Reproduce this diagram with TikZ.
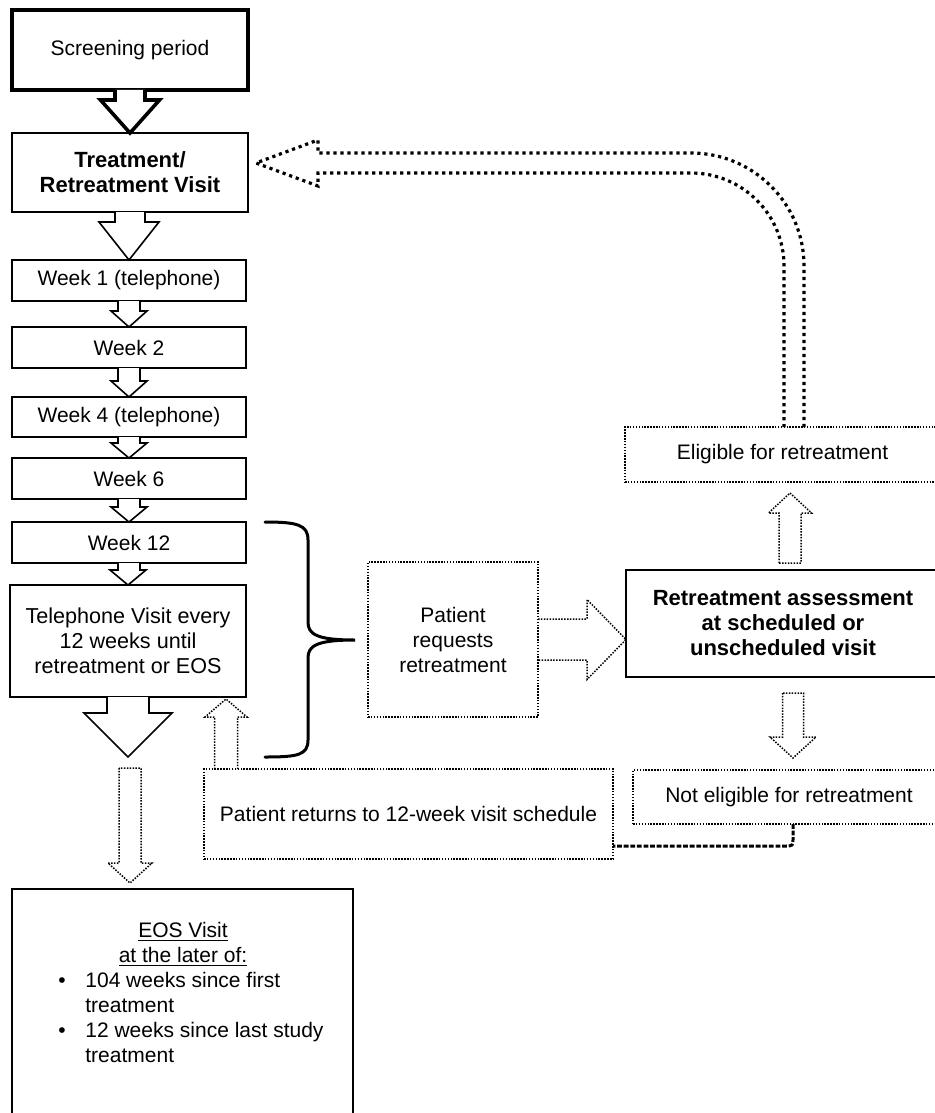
\documentclass[tikz,border=0pt]{standalone}
\usepackage{fontspec}
\setmainfont{Liberation Sans}
\usetikzlibrary{calc}
% vertical block arrow: style, tail, tip, shaft half-width, head half-width, head base offset (px)
\newcommand\vblk[6]{%
  \draw[#1] ($(#2)+(-#4,0)$) |- ($(#3)+(-#5,#6)$) -- (#3) -- ($(#3)+(#5,#6)$) -| ($(#2)+(#4,0)$);}
\newcommand\vblkc[6]{%
  \draw[#1] ($(#2)+(-#4,0)$) |- ($(#3)+(-#5,#6)$) -- (#3) -- ($(#3)+(#5,#6)$) -| ($(#2)+(#4,0)$) -- cycle;}
\tikzset{
  txt/.style={font=\fontsize{10.5}{12.5}\selectfont},
  boldtxt/.style={font=\fontsize{11}{12.5}\selectfont\bfseries},
  box/.style={draw, line width=0.8pt, inner sep=0pt, outer sep=0pt, align=center, txt},
  dbox/.style={box, line width=0.75pt, dash pattern=on 0.75pt off 0.7pt},
  wbox/.style={box, minimum width=117pt, minimum height=20.5pt},
  solidarrow/.style={draw, line width=0.8pt, fill=white, line join=miter},
  dotarrow/.style={draw, line width=0.75pt, dash pattern=on 0.75pt off 0.7pt},
  bigdots/.style={draw, line width=1.6pt, dash pattern=on 1.6pt off 1.9pt},
  thickdash/.style={draw, line width=1.5pt, dash pattern=on 2.4pt off 0.9pt},
  bracestyle/.style={draw, line width=1.5pt, line cap=round},
}
\begin{document}
\begin{tikzpicture}[x=0.5pt,y=-0.5pt]
\fill[white] (0,0) rectangle (935,1113);
\useasboundingbox (0,0) rectangle (935,1113);
\clip (0,0) rectangle (935,1113);

% ---- left column ----
\node[box, line width=2pt, minimum width=118pt, minimum height=40pt] (scr) at (130,50) {Screening period};
\node[box, boldtxt, minimum width=118pt, minimum height=39.5pt] (trt) at (130,172.5) {Treatment/\\Retreatment Visit};
\node[wbox] (w1) at (129,280.5) {Week 1 (telephone)};
\node[wbox] (w2) at (129,347.5) {Week 2};
\node[wbox, minimum height=20pt] (w4) at (129,417) {Week 4 (telephone)};
\node[wbox] (w6) at (129,478.5) {Week 6};
\node[wbox] (w12) at (129,542.5) {Week 12};
\node[box, font=\fontsize{10.8}{12.5}\selectfont, minimum width=118pt, minimum height=56pt] (tel) at (128,641) {Telephone Visit every\\12 weeks until\\retreatment or EOS};
\node[box, line width=0.9pt, minimum width=170.5pt, minimum height=118pt] (eos) at (182.5,1007) {};
\node[txt, anchor=base, inner sep=0pt] (eos1) at (183,937) {\underline{EOS Visit}};
\node[txt, anchor=base, inner sep=0pt] (eos2) at (183,962) {\underline{at the later of:}};
\node[txt, anchor=base, inner sep=0pt] (bul1) at (62,987) {\textbullet};
\node[txt, anchor=base west, inner sep=0pt] (it1a) at (85,987) {104 weeks since first};
\node[txt, anchor=base west, inner sep=0pt] (it1b) at (85,1012) {treatment};
\node[txt, anchor=base, inner sep=0pt] (bul2) at (62,1037) {\textbullet};
\node[txt, anchor=base west, inner sep=0pt] (it2a) at (85,1037) {12 weeks since last study};
\node[txt, anchor=base west, inner sep=0pt] (it2b) at (85,1062) {treatment};

% ---- middle / right ----
\node[dbox, minimum width=85pt, minimum height=77.5pt] (req) at (453,639.5) {Patient\\requests\\retreatment};
\node[box, boldtxt, line width=1.2pt, minimum width=157pt, minimum height=53.5pt] (ra) at (783,623.5) {Retreatment assessment\\at scheduled or\\unscheduled visit};
\node[dbox, minimum width=157.5pt, minimum height=27.5pt] (elig) at (782.5,454.5) {Eligible for retreatment};
\node[dbox, minimum width=156pt, minimum height=27pt] (nel) at (789,797) {Not eligible for retreatment};
\node[dbox, minimum width=204.5pt, minimum height=45pt] (pret) at (408.5,814) {Patient returns to 12-week visit schedule};

\coordinate (telTip) at (128,757);
\coordinate (eosTail) at (130,768);

% ---- block arrows, left column ----
\vblk{solidarrow, line width=1.8pt}{scr.south}{trt.north}{15}{29.5}{-33}
\vblk{solidarrow}{trt.south}{w1.north}{15}{30}{-38}
\vblk{solidarrow}{w1.south}{w2.north}{11}{18}{-16}
\vblk{solidarrow}{w2.south}{w4.north}{11}{18}{-16}
\vblk{solidarrow}{w4.south}{w6.north}{11}{18}{-15}
\vblk{solidarrow}{w6.south}{w12.north}{11}{18}{-15}
\vblk{solidarrow}{w12.south}{tel.north}{11}{18}{-15}
\vblk{solidarrow}{tel.south}{telTip}{21}{44}{-44}
\vblkc{dotarrow}{eosTail}{$(eos.north)+(-52.5,-6)$}{11}{22}{-20}

% up arrow: patient returns -> telephone visit
\vblk{dotarrow}{$(pret.north west)+(22,0)$}{$(tel.south east)+(-20,2)$}{11.5}{21}{18}

% right arrow: patient requests -> retreatment assessment
\draw[dotarrow] ($(req.east)+(0,-20.5)$) -- ($(ra.west |- req.east)+(-39,-20.5)$) -- ($(ra.west |- req.east)+(-39,-40)$)
  -- (ra.west |- req.east) -- ($(ra.west |- req.east)+(-39,40)$) -- ($(ra.west |- req.east)+(-39,20.5)$) -- ($(req.east)+(0,20.5)$);

% up arrow to eligible, down arrow to not eligible
\vblkc{dotarrow}{$(ra.north)+(7,-7)$}{$(elig.south)+(7.5,11)$}{11}{21.5}{20}
\vblkc{dotarrow}{$(ra.south)+(10,16)$}{$(nel.north)+(4,-12)$}{10.5}{23}{-21}

% big curved dotted arrow: eligible -> treatment
\draw[bigdots] ($(elig.north west)+(179,0)$) -- (804,266) .. controls (804,203.6) and (753.4,153) .. (691,153)
  -- (318,153) -- (318,140) -- ($(trt.east)+(8,-9.5)$) -- (318,186) -- (318,173) -- (691,173)
  .. controls (742.4,173) and (784,214.6) .. (784,266) -- ($(elig.north west)+(159,0)$);

% thick dashed: not eligible -> patient returns
\draw[thickdash] ($(nel.south)+(4,0)$) -- ++(0,14) .. controls +(0,8) and +(8,0) .. ++(-8,8) -- ($(pret.south east)+(0,-13)$);

% brace
\draw[bracestyle] (265,522) .. controls (298,522) and (308,525) .. (308,540) -- (308,622)
  .. controls (308,634) and (316,640) .. (355,640)
  .. controls (316,640) and (308,646) .. (308,658) -- (308,740)
  .. controls (308,755) and (298,757) .. (265,757);
\end{tikzpicture}
\end{document}
